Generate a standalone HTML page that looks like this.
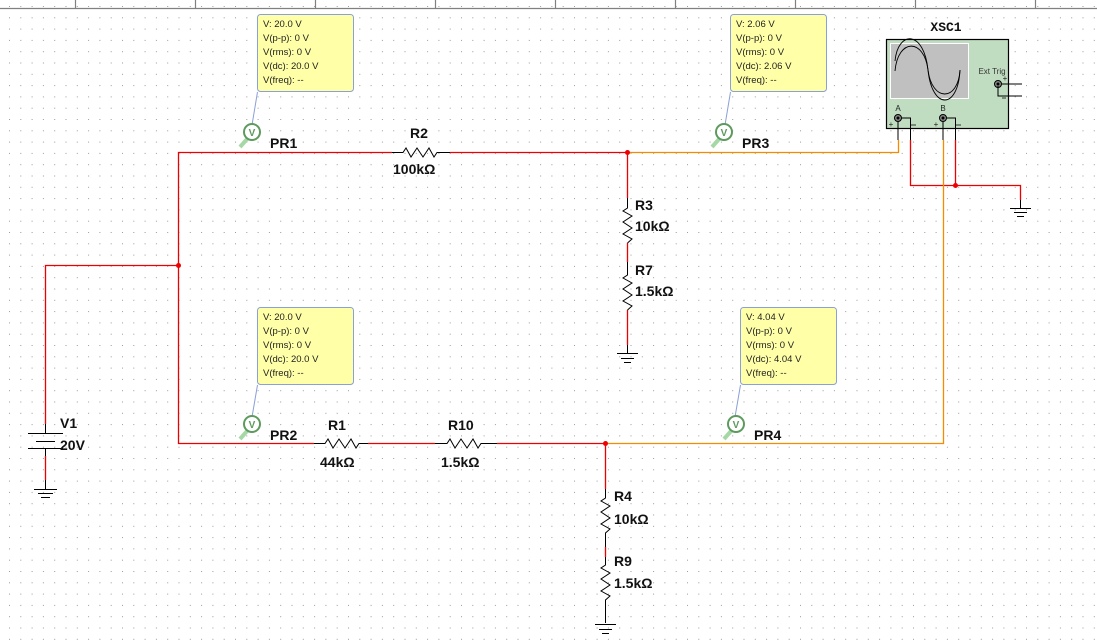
<!DOCTYPE html>
<html><head><meta charset="utf-8"><style>
html,body{margin:0;padding:0;background:#fff;}
svg{display:block;font-family:"Liberation Sans",Arial,sans-serif;}
.tip{font-size:9.5px;fill:#222;}
.lbl{font-size:14px;font-weight:bold;fill:#111;}
</style></head><body>
<svg width="1097" height="640" viewBox="0 0 1097 640" xmlns="http://www.w3.org/2000/svg">
<defs>
<pattern id="g" x="9" y="6" width="11.3" height="11.3" patternUnits="userSpaceOnUse">
<rect x="0" y="0" width="1" height="1" fill="#9a9a9a"/>
</pattern>
<g id="probe">
<line x1="-4" y1="6" x2="-12" y2="15" stroke="#a6d8a6" stroke-width="4"/>
<circle cx="0" cy="0" r="8" fill="#fff" stroke="#5d9a5d" stroke-width="2"/>
<text x="0" y="4" font-size="10" text-anchor="middle" fill="#5d9a5d" font-weight="bold">V</text>
</g>
</defs>
<rect width="1097" height="640" fill="#fff"/>
<rect width="1097" height="640" fill="url(#g)"/>
<line x1="0" y1="8.5" x2="1097" y2="8.5" stroke="#808080" stroke-width="1.2"/>
<g stroke="#808080" stroke-width="1.2">
<line x1="75.5" y1="0" x2="75.5" y2="8"/><line x1="195.5" y1="0" x2="195.5" y2="8"/><line x1="315.5" y1="0" x2="315.5" y2="8"/><line x1="435.5" y1="0" x2="435.5" y2="8"/><line x1="555.5" y1="0" x2="555.5" y2="8"/><line x1="675.5" y1="0" x2="675.5" y2="8"/><line x1="795.5" y1="0" x2="795.5" y2="8"/><line x1="915.5" y1="0" x2="915.5" y2="8"/><line x1="1035.5" y1="0" x2="1035.5" y2="8"/>
</g>

<!-- red wires -->
<g stroke="#e00" stroke-width="1.3" fill="none">
<polyline points="392,152.5 178.5,152.5 178.5,443.5 314,443.5"/>
<polyline points="178.5,265.5 45.5,265.5 45.5,424"/>
<line x1="45.5" y1="456" x2="45.5" y2="480"/>
<line x1="450" y1="152.5" x2="627" y2="152.5"/>
<line x1="368" y1="443.5" x2="435" y2="443.5"/>
<line x1="497" y1="443.5" x2="607" y2="443.5"/>
<line x1="627.5" y1="152.5" x2="627.5" y2="198"/>
<line x1="627.5" y1="243" x2="627.5" y2="262"/>
<line x1="627.5" y1="310" x2="627.5" y2="345"/>
<line x1="605.5" y1="443.5" x2="605.5" y2="489"/>
<line x1="605.5" y1="547" x2="605.5" y2="557"/>
<polyline points="910.5,140 910.5,185.5 1020.5,185.5 1020.5,200"/>
<line x1="955.5" y1="140" x2="955.5" y2="185.5"/>
</g>
<!-- orange wires -->
<g stroke="#f28c00" stroke-width="1.3" fill="none">
<polyline points="627,152.5 898.5,152.5 898.5,140"/>
<polyline points="607,443.5 943.5,443.5 943.5,140"/>
</g>
<g fill="#e00"><circle cx="178.5" cy="265.5" r="2.5"/><circle cx="627.5" cy="152.5" r="2.5"/><circle cx="605.5" cy="443.5" r="2.5"/><circle cx="955.5" cy="185.5" r="2.5"/></g>

<g stroke="#000" stroke-width="1" fill="none">
<polyline points="392,152.5 403,152.5 406,148 411,157 417,148 423,157 429,148 434,157 437,152.5 450,152.5"/>
<polyline points="314,443.5 325,443.5 328,439 333,448 339,439 345,448 351,439 356,448 359,443.5 368,443.5"/>
<polyline points="435,443.5 447,443.5 450,439 455,448 461,439 467,448 473,439 478,448 481,443.5 497,443.5"/>
<polyline points="627.5,198 627.5,208 623,211 632,216 623,222 632,228 623,234 632,239 627.5,243"/>
<polyline points="627.5,262 627.5,275 623,278 632,283 623,289 632,295 623,301 632,306 627.5,310"/>
<polyline points="605.5,489 605.5,498 601,501 610,506 601,512 610,518 601,524 610,529 605.5,533 605.5,547"/>
<polyline points="605.5,557 605.5,565 601,568 610,573 601,579 610,585 601,591 610,596 605.5,600 605.5,623"/>
<line x1="627.5" y1="345" x2="627.5" y2="353"/>
<line x1="617" y1="353.5" x2="638" y2="353.5"/><line x1="621" y1="358.5" x2="634" y2="358.5"/><line x1="624" y1="362.5" x2="631" y2="362.5"/>
<line x1="595" y1="624.5" x2="616" y2="624.5"/><line x1="599" y1="629.5" x2="612" y2="629.5"/><line x1="602" y1="633.5" x2="609" y2="633.5"/>
<line x1="1020.5" y1="200" x2="1020.5" y2="208"/>
<line x1="1010" y1="208.5" x2="1031" y2="208.5"/><line x1="1014" y1="212.5" x2="1027" y2="212.5"/><line x1="1017" y1="216.5" x2="1024" y2="216.5"/>
<line x1="45.5" y1="424" x2="45.5" y2="433"/>
<line x1="28" y1="433.5" x2="63" y2="433.5"/>
<line x1="36" y1="441.5" x2="55" y2="441.5"/>
<line x1="28" y1="448.5" x2="63" y2="448.5"/>
<line x1="45.5" y1="448" x2="45.5" y2="456"/>
<line x1="45.5" y1="480" x2="45.5" y2="489"/>
<line x1="34" y1="489.5" x2="57" y2="489.5"/><line x1="38" y1="493.5" x2="53" y2="493.5"/><line x1="41" y1="497.5" x2="50" y2="497.5"/>
</g>

<!-- oscilloscope -->
<text x="946" y="31" style="font-family:'Liberation Mono','DejaVu Sans Mono',monospace;font-size:13px;font-weight:bold;" text-anchor="middle" fill="#111">XSC1</text>
<rect x="886.5" y="39.5" width="122" height="89" fill="#c1ddc1" stroke="#000" stroke-width="1.2"/>
<rect x="890.5" y="43.5" width="78" height="55" fill="#c0c0c0" stroke="#fff" stroke-width="1"/>
<path d="M895,71 C898,38 924,38 928,70 C932,102 958,102 960,70" stroke="#000" fill="none" stroke-width="0.9"/>
<path d="M895,61 C898,30 924,30 928,70 C932,110 958,110 960,70" stroke="#000" fill="none" stroke-width="0.9"/>
<text x="992" y="74" font-size="8" text-anchor="middle" fill="#333">Ext Trig</text>
<g stroke="#000" stroke-width="1" fill="none">
<circle cx="998" cy="84" r="3.5" fill="#888"/><line x1="1001" y1="84" x2="1022" y2="84"/><polyline points="998,86 998,96 1022,96"/>
<circle cx="898" cy="118" r="3.5" fill="#888"/><polyline points="901,118 910.5,118 910.5,140"/><line x1="898" y1="121" x2="898" y2="140"/>
<circle cx="943" cy="118" r="3.5" fill="#888"/><polyline points="946,118 955.5,118 955.5,140"/><line x1="943" y1="121" x2="943" y2="140"/>
</g>
<g fill="#000"><circle cx="998" cy="84" r="1.5"/><circle cx="898" cy="118" r="1.5"/><circle cx="943" cy="118" r="1.5"/></g>
<g font-size="8" fill="#222" text-anchor="middle"><text x="898" y="111">A</text><text x="943" y="111">B</text><text x="891" y="127">+</text><text x="936" y="127">+</text><text x="1005" y="81">+</text></g>
<g stroke="#333"><line x1="911" y1="125" x2="916" y2="125"/><line x1="956" y1="125" x2="961" y2="125"/><line x1="1002" y1="98" x2="1006" y2="98"/></g>

<g stroke="#8aa0d8" stroke-width="1" fill="#ffffa8">
<rect x="257.5" y="14.5" width="96" height="77" rx="3"/>
<rect x="730.5" y="14.5" width="96" height="77" rx="3"/>
<rect x="257.5" y="307.5" width="96" height="77" rx="3"/>
<rect x="740.5" y="307.5" width="96" height="77" rx="3"/>
</g>
<g stroke="#8aa0d8" stroke-width="1">
<line x1="257.5" y1="92" x2="252" y2="125"/>
<line x1="730.5" y1="92" x2="725" y2="125"/>
<line x1="257.5" y1="385" x2="252" y2="417"/>
<line x1="740.5" y1="385" x2="735" y2="417"/>
</g>
<g class="tip">
<text x="263" y="27">V: 20.0 V</text><text x="263" y="41">V(p-p): 0 V</text><text x="263" y="55">V(rms): 0 V</text><text x="263" y="69">V(dc): 20.0 V</text><text x="263" y="83">V(freq): --</text>
<text x="736" y="27">V: 2.06 V</text><text x="736" y="41">V(p-p): 0 V</text><text x="736" y="55">V(rms): 0 V</text><text x="736" y="69">V(dc): 2.06 V</text><text x="736" y="83">V(freq): --</text>
<text x="263" y="320">V: 20.0 V</text><text x="263" y="334">V(p-p): 0 V</text><text x="263" y="348">V(rms): 0 V</text><text x="263" y="362">V(dc): 20.0 V</text><text x="263" y="376">V(freq): --</text>
<text x="746" y="320">V: 4.04 V</text><text x="746" y="334">V(p-p): 0 V</text><text x="746" y="348">V(rms): 0 V</text><text x="746" y="362">V(dc): 4.04 V</text><text x="746" y="376">V(freq): --</text>
</g>

<use href="#probe" x="252" y="132"/>
<use href="#probe" x="724" y="132"/>
<use href="#probe" x="252" y="424"/>
<use href="#probe" x="736" y="424"/>

<g class="lbl">
<text x="270" y="148">PR1</text><text x="742" y="148">PR3</text><text x="270" y="440">PR2</text><text x="754" y="440">PR4</text>
<text x="410" y="138">R2</text><text x="393" y="174">100kΩ</text>
<text x="328" y="430">R1</text><text x="320" y="467">44kΩ</text>
<text x="448" y="430">R10</text><text x="441" y="467">1.5kΩ</text>
<text x="635" y="210">R3</text><text x="635" y="231">10kΩ</text>
<text x="635" y="275">R7</text><text x="635" y="296">1.5kΩ</text>
<text x="614" y="501">R4</text><text x="614" y="524">10kΩ</text>
<text x="614" y="566">R9</text><text x="614" y="588">1.5kΩ</text>
<text x="60" y="428">V1</text><text x="60" y="450">20V</text>
</g>
</svg>
</body></html>
